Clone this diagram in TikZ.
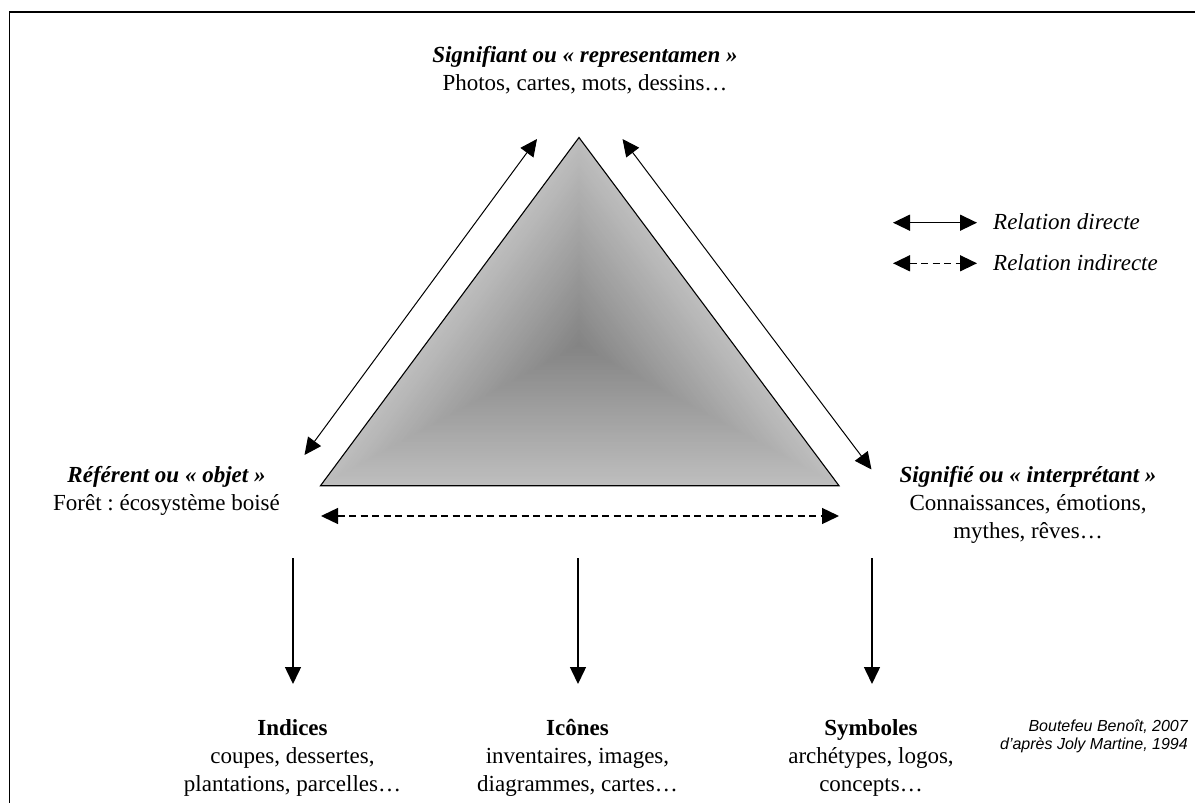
\documentclass[tikz,border=0pt]{standalone}
\usepackage{fontspec}
\setmainfont{Liberation Serif}
\setsansfont{Liberation Sans}
\usetikzlibrary{arrows.meta,calc}
\definecolor{edgegray}{HTML}{BEBEBE}
\definecolor{coregray}{HTML}{848484}
\tikzset{headtri/.tip={Triangle[length=17pt,width=16pt]}}
\frenchspacing
\begin{document}
\begin{tikzpicture}[x=1pt,y=-1pt,
  lbl/.style={align=center,inner sep=0pt,font=\fontsize{23}{28}\selectfont,anchor=base},
  credit/.style={align=right,inner sep=0pt,font=\sffamily\itshape\fontsize{16}{17.6}\selectfont,anchor=base east},
  legtxt/.style={inner sep=0pt,font=\itshape\fontsize{23}{28}\selectfont,anchor=base west},
  rel/.style={line width=1pt,headtri-headtri},
  down/.style={line width=1.5pt,-headtri},
  dashrel/.style={line width=1.4pt,dash pattern=on 7pt off 4.5pt,headtri-headtri},
  legsolid/.style={line width=1.4pt,headtri-headtri},
  frame/.style={line width=1.6pt,line join=miter}]
\useasboundingbox (0,0) rectangle (1195,803);
% frame
\draw[frame] (9.5,803) -- (9.5,12) -- (1195,12);
% triangle
\coordinate (A) at (579,137.5);
\coordinate (B) at (320.5,485.7);
\coordinate (C) at (839,485.7);
\coordinate (O) at (579,345);
\foreach \i in {0,...,79}{
  \pgfmathsetmacro\s{1-\i/80}
  \pgfmathtruncatemacro\p{round(100*\i/79)}
  \fill[coregray!\p!edgegray] ($(O)!\s!(A)$) -- ($(O)!\s!(B)$) -- ($(O)!\s!(C)$) -- cycle;
}
\draw[line width=1.1pt,line join=miter] (A) -- (B) -- (C) -- cycle;
% side arrows
\coordinate (L1) at (537,139);
\coordinate (L2) at (304.5,455);
\coordinate (R1) at (622.5,139);
\coordinate (R2) at (871.5,469.5);
\draw[rel] (L2) -- (L1);
\draw[rel] (R1) -- (R2);
\coordinate (D1) at (321,516);
\coordinate (D2) at (839,516);
\draw[dashrel] (D1) -- (D2);
% down arrows
\coordinate (I1) at (293,558);
\coordinate (I2) at (293,684);
\coordinate (K1) at (578,558);
\coordinate (K2) at (578,684);
\coordinate (S1) at (872,558);
\coordinate (S2) at (872,684);
\draw[down] (I1) -- (I2);
\draw[down] (K1) -- (K2);
\draw[down] (S1) -- (S2);
% labels (anchor = baseline of the last line)
\node[lbl] (sig) at (585,90.7) {\textbf{\textit{Signifiant ou «~representamen~»}}\\Photos, cartes, mots, dessins…};
\node[lbl] (ref) at (166.5,510) {\textbf{\textit{Référent ou «~objet~»}}\\Forêt : écosystème boisé};
\node[lbl] (sgf) at (1028,538) {\textbf{\textit{Signifié ou «~interprétant~»}}\\Connaissances, émotions,\\mythes, rêves…};
\node[lbl] (ind) at (292.5,791.5) {\textbf{Indices}\\coupes, dessertes,\\plantations, parcelles…};
\node[lbl] (ico) at (577.5,791.5) {\textbf{Icônes}\\inventaires, images,\\diagrammes, cartes…};
\node[lbl] (sym) at (871,791.5) {\textbf{Symboles}\\archétypes, logos,\\concepts…};
\node[credit] (src) at (1188,749.3) {Boutefeu Benoît, 2007\\d’après Joly Martine, 1994};
% legend
\coordinate (la1) at (893,222.7);
\coordinate (lb1) at (977,222.7);
\coordinate (la2) at (893,263.3);
\coordinate (lb2) at (977,263.3);
\draw[legsolid] (la1) -- (lb1);
\draw[legsolid,dash pattern=on 7pt off 4.5pt] (la2) -- (lb2);
\node[legtxt] (ldir) at (993,229.3) {Relation directe};
\node[legtxt] (lind) at (993,270) {Relation indirecte};
\end{tikzpicture}
\end{document}
